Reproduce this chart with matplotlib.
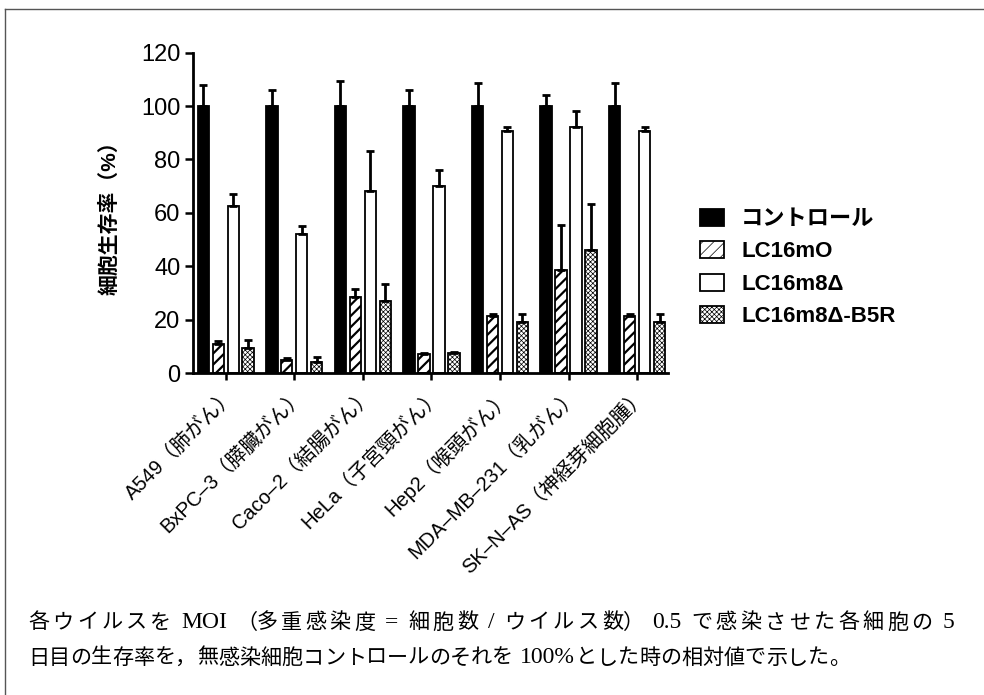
import matplotlib
matplotlib.use("Agg")
import matplotlib.pyplot as plt
import numpy as np
from matplotlib.lines import Line2D
from matplotlib.patches import Patch

plt.rcParams['font.family'] = ['Liberation Sans', 'Noto Sans CJK JP']
plt.rcParams['hatch.linewidth'] = 1.6

# cell lines
cells = ["A549（肺がん）", "BxPC–3（膵臓がん）", "Caco–2（結腸がん）", "HeLa（子宮頸がん）",
         "Hep2（喉頭がん）", "MDA–MB–231（乳がん）", "SK–N–AS（神経芽細胞腫）"]
series = ["コントロール", "LC16mO", "LC16m8Δ", "LC16m8Δ-B5R"]

control = [100, 100, 100, 100, 100, 100, 100]
control_err = [8, 6, 9.5, 6, 8.5, 4, 8.5]
lc16mo = [11, 5, 28.5, 7, 21.5, 38.5, 21.5]
lc16mo_err = [1, 0.5, 3, 0.5, 0.5, 17, 0.5]
lc16m8 = [62.5, 52, 68, 70, 90.5, 92, 90.5]
lc16m8_err = [4.5, 3, 15, 6, 1.5, 6, 1.5]
b5r = [9.5, 4, 27, 7.5, 19, 46, 19]
b5r_err = [3, 2, 6.5, 0.5, 3, 17.5, 3]

caption = ["各ウイルスを MOI（多重感染度 = 細胞数 / ウイルス数）0.5 で感染させた各細胞の 5",
           "日目の生存率を，無感染細胞コントロールのそれを 100%とした時の相対値で示した。"]
latin_font = ['Liberation Serif']
cjk_font = ['Noto Sans CJK JP']

W, H = 984, 695
fig = plt.figure(figsize=(W / 100, H / 100), dpi=100)
fig.patch.set_facecolor("white")
ax = fig.add_axes([193 / W, (H - 373) / H, (668 - 193) / W, (373 - 52.7) / H])

x = np.arange(len(cells))
step = 0.218
bw = 0.165
styles = [
    dict(color="black", hatch=None, hlw=1.6),
    dict(color="white", hatch="///", hlw=1.6),
    dict(color="white", hatch=None, hlw=1.6),
    dict(color="white", hatch="xxxxxxx", hlw=0.5),
]
vals = [control, lc16mo, lc16m8, b5r]
errs = [control_err, lc16mo_err, lc16m8_err, b5r_err]

for i, (v, e, st) in enumerate(zip(vals, errs, styles)):
    pos = x + (i - 1.5) * step
    plt.rcParams['hatch.linewidth'] = st["hlw"]
    ax.bar(pos, v, width=bw, facecolor=st["color"], edgecolor="black",
           hatch=st["hatch"], linewidth=1.3, zorder=2)
    ax.errorbar(pos, v, yerr=[np.zeros(len(e)), e], fmt="none", ecolor="black",
                elinewidth=2, capsize=3, capthick=2, zorder=3)

ax.set_xlim(-0.477, 6.45)
ax.set_ylim(0, 120)
ax.set_yticks(np.arange(0, 121, 20))
for s in ["top", "right"]:
    ax.spines[s].set_visible(False)
for s in ["left", "bottom"]:
    ax.spines[s].set_linewidth(2)
ax.tick_params(axis="y", length=6, width=1.8, labelsize=17, pad=3)
ax.tick_params(axis="x", length=5, width=1.8, pad=4)
ax.set_xticks(x)
ax.set_xticklabels(cells, rotation=45, ha="right", va="top",
                   rotation_mode="anchor", fontsize=14.5)
ax.set_ylabel("細胞生存率（%）", fontsize=15, fontweight="bold")
ax.yaxis.set_label_coords(-0.154, 0.5)

handles = []
for st in styles:
    plt.rcParams['hatch.linewidth'] = st["hlw"]
    handles.append(Patch(facecolor=st["color"], edgecolor="black", hatch=st["hatch"],
                         linewidth=1.3))
ax.legend(handles, series, loc="center left", bbox_to_anchor=(700 / W, 1 - 268 / H),
          bbox_transform=fig.transFigure, frameon=False,
          prop=dict(size=16, weight="bold"),
          handlelength=1.1, handleheight=0.8, handletextpad=0.75, labelspacing=0.5,
          borderaxespad=0, borderpad=0)


def is_cjk(ch):
    return ord(ch) >= 0x2E80


def caption_line(text, x0, y, fs, x1=None):
    # CJK set in full-width cells, Latin runs a bit larger like Times in print;
    # a full line (x1 given) is spread over the column width
    r = fig.canvas.get_renderer()
    em = fs * fig.dpi / 72
    lfs = fs * 1.12
    units = []
    for ch in text:
        if not is_cjk(ch) and ch != " " and units and units[-1] != " " \
                and not is_cjk(units[-1][-1]):
            units[-1] += ch
        else:
            units.append(ch)
    widths = []
    for u in units:
        if u == " ":
            widths.append(0.25 * em)
        elif is_cjk(u[0]):
            widths.append(em)
        else:
            t = fig.text(0, 0, u, fontsize=lfs, family=latin_font)
            widths.append(t.get_window_extent(r).width + 0.1 * em)
            t.remove()
    n_gaps = sum(1 for u in units if u != " ") - 1
    extra = 0 if x1 is None else ((x1 - x0) - sum(widths)) / n_gaps
    xp = x0
    for u, w in zip(units, widths):
        if u == " ":
            xp += w
            continue
        cx = xp + w / 2
        if u == "（":
            cx = xp + 0.7 * w
        elif u == "）":
            cx = xp + 0.3 * w
        elif u == "，":
            cx = xp + 0.42 * w
        if is_cjk(u[0]):
            fig.text(cx / W, y, u, fontsize=fs, ha="center", va="center_baseline",
                     family=cjk_font)
        else:
            fig.text(cx / W, y, u, fontsize=lfs, ha="center", va="center_baseline",
                     family=latin_font)
        xp += w + extra


caption_line(caption[0], 28, 1 - 620 / H, 15.2, x1=955)
caption_line(caption[1], 28, 1 - 655 / H, 15.2)

# frame around figure
fig.add_artist(Line2D([5 / W, 5 / W], [0, 1 - 9 / H], transform=fig.transFigure,
                      color="#555555", lw=1))
fig.add_artist(Line2D([5 / W, 1], [1 - 9 / H, 1 - 9 / H], transform=fig.transFigure,
                      color="#555555", lw=1))

fig.savefig("out.png", dpi=100, facecolor="white")
